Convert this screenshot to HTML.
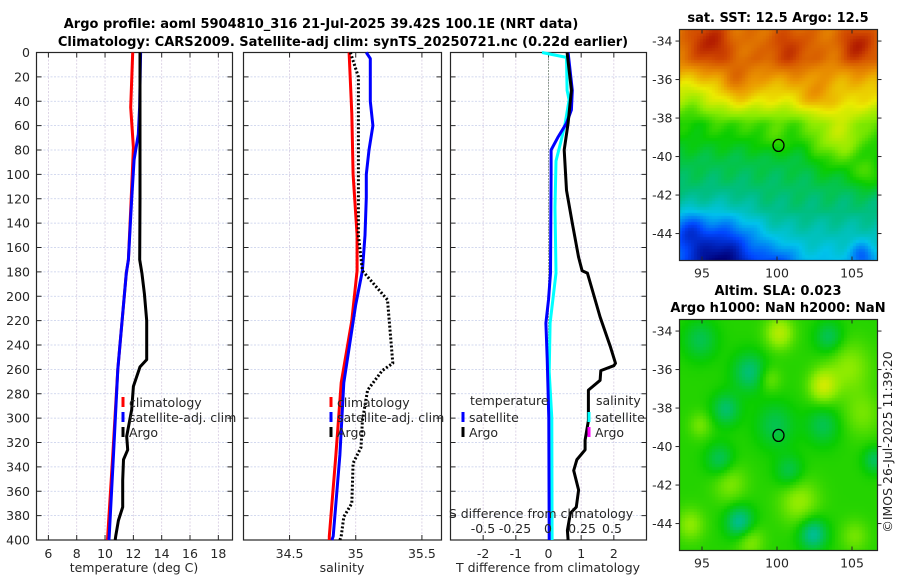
<!DOCTYPE html>
<html><head><meta charset="utf-8">
<style>
html,body{margin:0;padding:0;background:#fff;width:900px;height:580px;overflow:hidden}
svg{display:block;font-family:"DejaVu Sans","Liberation Sans",sans-serif}
.t{font-size:12.5px;fill:#262626}
.b{font-weight:bold;font-size:13px;fill:#000}
canvas{position:absolute}
</style></head>
<body>
<div style="position:relative;width:900px;height:580px">
<canvas id="sst" width="198" height="231" style="left:679px;top:29.5px"></canvas>
<canvas id="sla" width="198" height="231" style="left:679px;top:319.5px"></canvas>
<svg id="svg" width="900" height="580" style="position:absolute;left:0;top:0">
<text x="321" y="28" text-anchor="middle" class="b">Argo profile: aoml 5904810_316 21-Jul-2025 39.42S 100.1E (NRT data)</text>
<text x="343" y="46" text-anchor="middle" class="b">Climatology: CARS2009. Satellite-adj clim: synTS_20250721.nc (0.22d earlier)</text>
<text x="778" y="22" text-anchor="middle" class="b">sat. SST: 12.5 Argo: 12.5</text>
<text x="778" y="295" text-anchor="middle" class="b">Altim. SLA: 0.023</text>
<text x="778" y="312" text-anchor="middle" class="b">Argo h1000: NaN h2000: NaN</text>
<text x="0" y="0" transform="translate(892,442) rotate(-90)" text-anchor="middle" class="t">©IMOS 26-Jul-2025 11:39:20</text>
</svg>
</div>
<script>
// ---- data ----
const depthTicks=[0,20,40,60,80,100,120,140,160,180,200,220,240,260,280,300,320,340,360,380,400];
const tempTicks=[6,8,10,12,14,16,18];
const salTicks=[34.5,35,35.5];
const salTickLabels=["34.5","35","35.5"];
const tdTicks=[-2,-1,0,1,2];
const sdTickLabels=["-0.5","-0.25","0","0.25","0.5"];
const sdTicks=[-0.5,-0.25,0,0.25,0.5];

const tArgoDepth=[0,40,80,120,170,181,198,220,252,258,274,293,315,326,334,351,373,384,397,400];
const tArgoVal=[12.47,12.47,12.47,12.47,12.45,12.6,12.78,12.94,12.94,12.47,12.0,11.88,11.53,11.6,11.3,11.25,11.25,10.94,10.75,10.72];
const tClimDepth=[0,45,78,120,170,181,260,330,397,400];
const tClimVal=[11.95,11.81,12.0,11.85,11.65,11.5,10.9,10.55,10.19,10.17];
const tSatDepth=[0,45,67,88,120,170,181,260,330,397,400];
const tSatVal=[12.51,12.44,12.35,12.05,11.88,11.65,11.5,10.9,10.6,10.29,10.27];

const sArgoDepth=[0,20,60,100,150,179,203,255,261,277,302,324,337,370,381,397,400];
const sArgoVal=[34.96,35.02,35.02,35.02,35.02,35.05,35.24,35.28,35.2,35.09,35.05,35.04,34.98,34.97,34.91,34.89,34.88];
const sClimDepth=[0,50,100,150,179,220,271,330,397,400];
const sClimVal=[34.95,34.97,34.98,35.01,35.01,34.97,34.89,34.85,34.8,34.8];
const sSatDepth=[0,5,40,60,80,100,119,150,179,207,271,330,397,400];
const sSatVal=[35.08,35.11,35.11,35.13,35.1,35.08,35.08,35.07,35.05,35.0,34.91,34.88,34.83,34.82];

const dArgoDepth=[0,31,58,80,113,140,168,179,181,192,217,242,255,257,261,269,277,302,318,326,334,343,359,373,378,392,400];
const dArgoVal=[0.57,0.7,0.6,0.48,0.55,0.73,0.92,1.03,1.19,1.31,1.58,1.9,2.05,2.0,1.6,1.58,1.22,1.22,1.12,1.12,0.87,0.77,0.92,0.85,0.67,0.58,0.6];
const dTSatDepth=[0,31,47,58,69,80,100,181,203,222,251,300,400];
const dTSatVal=[0.6,0.73,0.7,0.55,0.3,0.08,0.08,0.06,0,-0.08,-0.04,0.01,0.02];
const dSSatDepth=[0,4,31,39,58,72,89,127,181,222,262,300,400];
const dSSatVal=[-0.2,0.55,0.57,0.63,0.51,0.39,0.23,0.2,0.23,0.05,0.02,0.1,0.11];

// ---- layout ----
const NS="http://www.w3.org/2000/svg";
const svg=document.getElementById('svg');
const Y0=52.5,Y1=540;
const yS=d=>Y0+(d/400)*(Y1-Y0);
function el(tag,attrs,parent){const e=document.createElementNS(NS,tag);for(const k in attrs)e.setAttribute(k,attrs[k]);(parent||svg).appendChild(e);return e;}
const panels=[
 {x0:36.5,x1:232.5,v0:5.16,v1:19.0,name:'temperature'},
 {x0:243.5,x1:441.5,v0:34.152,v1:35.648,name:'salinity'},
 {x0:450.5,x1:646.5,v0:-3.0,v1:3.0,name:'difference'}
];
panels.forEach(p=>p.sx=v=>p.x0+(v-p.v0)/(p.v1-p.v0)*(p.x1-p.x0));

function gridAndAxes(p,xt,xl,isFirst){
  const g=el('g',{});
  
  
  depthTicks.forEach(d=>{
    const l=el('line',{x1:p.x0,x2:p.x1,y1:yS(d),y2:yS(d),stroke:'#c5cdea','stroke-width':0.8,'stroke-dasharray':'2,1.5'},g);
    
    
    el('line',{x1:p.x0,x2:p.x0+5,y1:yS(d),y2:yS(d),stroke:'#262626'},g);
    el('line',{x1:p.x1,x2:p.x1-5,y1:yS(d),y2:yS(d),stroke:'#262626'},g);
  });
  xt.forEach((v,i)=>{
    const x=p.sx(v);
    const l=el('line',{x1:x,x2:x,y1:Y0,y2:Y1,stroke:'#d6cbe0','stroke-width':0.8,'stroke-dasharray':'2,1.5'},g);
    
    
    el('line',{x1:x,x2:x,y1:Y1,y2:Y1-5,stroke:'#262626'},g);
    el('line',{x1:x,x2:x,y1:Y0,y2:Y0+5,stroke:'#262626'},g);
    const t=el('text',{x:x,y:558,'text-anchor':'middle',class:'t'},g);
    t.textContent=xl[i];
    
    
  });
  el('rect',{x:p.x0,y:Y0,width:p.x1-p.x0,height:Y1-Y0,fill:'none',stroke:'#262626','stroke-width':1.2},g);
  if(isFirst){
    depthTicks.forEach(d=>{
      const t=el('text',{x:30,y:yS(d)+4.5,'text-anchor':'end',class:'t'});
      t.textContent=d;
      
      
    });
  }
}
gridAndAxes(panels[0],tempTicks,tempTicks.map(String),true);
gridAndAxes(panels[1],salTicks,salTickLabels,false);
gridAndAxes(panels[2],tdTicks,tdTicks.map(String),false);

function series(p,depths,vals,color,name,dash){
  const pts=depths.map((d,i)=>p.sx(vals[i]).toFixed(1)+','+yS(d).toFixed(1)).join(' ');
  const a={points:pts,fill:'none',stroke:color,'stroke-width':3,'stroke-linejoin':'round'};
  if(dash){a['stroke-dasharray']=dash;a['stroke-width']=3;}
  const e=el('polyline',a);
  
  
}
series(panels[0],tClimDepth,tClimVal,'#ff0000','temp-climatology-line');
series(panels[0],tSatDepth,tSatVal,'#0000ff','temp-satellite-line');
series(panels[0],tArgoDepth,tArgoVal,'#000','temp-argo-line');
series(panels[1],sClimDepth,sClimVal,'#ff0000','sal-climatology-line');
series(panels[1],sSatDepth,sSatVal,'#0000ff','sal-satellite-line');
series(panels[1],sArgoDepth,sArgoVal,'#000','sal-argo-line','2,2');
const zl=el('line',{x1:panels[2].sx(0),x2:panels[2].sx(0),y1:Y0,y2:Y1,stroke:'#3a5a3a','stroke-width':1,'stroke-dasharray':'1,2'});


series(panels[2],dSSatDepth,dSSatVal,'#00ffff','sal-diff-satellite-line');
series(panels[2],dTSatDepth,dTSatVal,'#0000ff','temp-diff-satellite-line');
series(panels[2],dArgoDepth,dArgoVal,'#000','temp-diff-argo-line');

const sdX=[483,515,548,582,612];
sdTickLabels.forEach((s,i)=>{
  const t=el('text',{x:sdX[i],y:533,'text-anchor':'middle',class:'t'});
  t.textContent=s;
  
  
});
function txt(x,y,s,name,anchor){
  const t=el('text',{x:x,y:y,class:'t','text-anchor':anchor||'start'});
  t.textContent=s;
  
  
  return t;
}
txt(541,518,'S difference from climatology','s-diff-axis-title','middle');
txt(134,572,'temperature (deg C)','x-axis-title-temperature','middle');
txt(342,572,'salinity','x-axis-title-salinity','middle');
txt(548,572,'T difference from climatology','x-axis-title-tdiff','middle');

function legend(x,y,color,label,name){
  const r=el('rect',{x:x-1.5,y:y-5,width:3,height:10,fill:color});
  
  
  if(label) txt(x+6,y+5,label,name);
}
legend(123,402,'#ff0000','climatology','legend-climatology');
legend(123,417,'#0000ff','satellite-adj. clim','legend-satellite-adj');
legend(123,432,'#000','Argo','legend-argo');
legend(331,402,'#ff0000','climatology','legend2-climatology');
legend(331,417,'#0000ff','satellite-adj. clim','legend2-satellite-adj');
legend(331,432,'#000','Argo','legend2-argo');
txt(470,405,'temperature','legend3-temperature-header');
legend(463,417,'#0000ff','satellite','legend3-temp-satellite');
legend(463,432,'#000','Argo','legend3-temp-argo');
txt(596,405,'salinity','legend3-salinity-header');
legend(589,417,'#00ffff','satellite','legend3-sal-satellite');
legend(589,432,'#ff00ff','Argo','legend3-sal-argo');

const lonTicks=[95,100,105];
const latTicks=[-34,-36,-38,-40,-42,-44];
function mapAxes(top,name){
  const x0=679.5,x1=877.5,y0=top,y1=top+231;
  const lx=l=>x0+(l-93.5)/(106.7-93.5)*(x1-x0);
  const ly=l=>y0+(-33.4-l)/12*(y1-y0);
  const g=el('g',{});
  
  
  el('rect',{x:x0,y:y0,width:x1-x0,height:y1-y0,fill:'none',stroke:'#262626','stroke-width':1.2},g);
  lonTicks.forEach(l=>{
    el('line',{x1:lx(l),x2:lx(l),y1:y1,y2:y1-4,stroke:'#262626'},g);
    el('line',{x1:lx(l),x2:lx(l),y1:y0,y2:y0+4,stroke:'#262626'},g);
    const t=el('text',{x:lx(l),y:y1+17,'text-anchor':'middle',class:'t'},g);t.textContent=l;
  });
  latTicks.forEach(l=>{
    el('line',{x1:x0,x2:x0-4,y1:ly(l),y2:ly(l),stroke:'#262626'},g);
    el('line',{x1:x1,x2:x1+4,y1:ly(l),y2:ly(l),stroke:'#262626'},g);
    const t=el('text',{x:x0-7,y:ly(l)+4.5,'text-anchor':'end',class:'t'},g);t.textContent=l;
  });
  const c=el('ellipse',{cx:lx(100.1),cy:ly(-39.42),rx:5.5,ry:6,fill:'none',stroke:'#000','stroke-width':1.3},g);
  
  
}
mapAxes(29.5,'sst-map');
mapAxes(319.5,'sla-map');

const cmStops=[[0,[0,0,120]],[0.15,[0,70,255]],[0.3,[0,195,235]],[0.4,[0,190,130]],[0.5,[10,205,0]],[0.6,[140,235,0]],[0.7,[235,235,0]],[0.8,[235,150,0]],[0.9,[210,75,0]],[1,[160,0,0]]];
function cmap(v){v=Math.max(0,Math.min(1,v));
  for(let i=1;i<cmStops.length;i++){if(v<=cmStops[i][0]){const a=cmStops[i-1],b=cmStops[i],t=(v-a[0])/(b[0]-a[0]);
    return a[1].map((c,k)=>Math.round(c+(b[1][k]-c)*t));}}
  return cmStops[cmStops.length-1][1];}
function blob(x,y,cx,cy,s,a){const dx=x-cx,dy=y-cy;return a*Math.exp(-(dx*dx+dy*dy)/(2*s*s));}
function paint(id,f){
  const c=document.getElementById(id),ctx=c.getContext('2d');
  const px=3;
  for(let y=0;y<c.height;y+=px)for(let x=0;x<c.width;x+=px){
    const [r,g,b]=cmap(f(x/c.width,y/c.height));
    ctx.fillStyle=`rgb(${r},${g},${b})`;ctx.fillRect(x,y,px,px);
  }
}
paint('sst',(u,v)=>{
  let val;
  if(v<0.12)val=0.84;else if(v<0.3)val=0.84-(v-0.12)*0.8;else if(v<0.4)val=0.7-(v-0.3)*1.6;
  else if(v<0.55)val=0.54-(v-0.4)*0.6;else if(v<0.78)val=0.45-(v-0.55)*0.2;else val=0.4-(v-0.78)*0.5;
  val+=blob(u,v,0.15,0.05,0.07,0.12)+blob(u,v,0.9,0.06,0.06,0.12)+blob(u,v,0.55,0.08,0.08,0.08)+blob(u,v,0.3,0.22,0.06,0.08)+blob(u,v,0.68,0.28,0.05,0.08);
  val-=blob(u,v,0.05,0.3,0.08,0.08);
  val+=blob(u,v,0.8,0.47,0.1,0.14)+blob(u,v,0.95,0.62,0.05,0.1)+blob(u,v,0.47,0.47,0.05,0.04);
  val-=blob(u,v,0.2,1.0,0.14,0.3)+blob(u,v,0.03,0.86,0.06,0.15)+blob(u,v,0.92,0.97,0.04,0.12)+blob(u,v,0.5,1.02,0.06,0.12);
  val+=0.015*Math.sin(u*40+v*17)*Math.cos(v*30);
  return val;
});
paint('sla',(u,v)=>{
  let val=0.52;
  const pos=[[0.5,0.05,0.05,0.12],[0.85,0.2,0.08,0.08],[0.72,0.28,0.05,0.14],[0.92,0.4,0.07,0.06],[0.25,0.7,0.06,0.07],[0.6,0.78,0.07,0.09],[0.35,0.95,0.05,0.08],[0.05,0.88,0.05,0.08],[0.88,0.93,0.05,0.06],[0.1,0.45,0.04,0.06],[0.45,0.25,0.04,0.06]];
  const neg=[[0.35,0.22,0.06,0.11],[0.23,0.38,0.05,0.1],[0.48,0.45,0.07,0.08],[0.72,0.45,0.06,0.08],[0.2,0.6,0.05,0.09],[0.55,0.65,0.05,0.08],[0.98,0.6,0.04,0.09],[0.3,0.87,0.05,0.14],[0.67,0.92,0.05,0.14],[0.1,0.08,0.06,0.08],[0.75,0.07,0.05,0.09]];
  pos.forEach(b=>val+=blob(u,v,b[0],b[1],b[2],b[3]));
  neg.forEach(b=>val-=blob(u,v,b[0],b[1],b[2],b[3]));
  return val;
});
</script>
</body></html>
